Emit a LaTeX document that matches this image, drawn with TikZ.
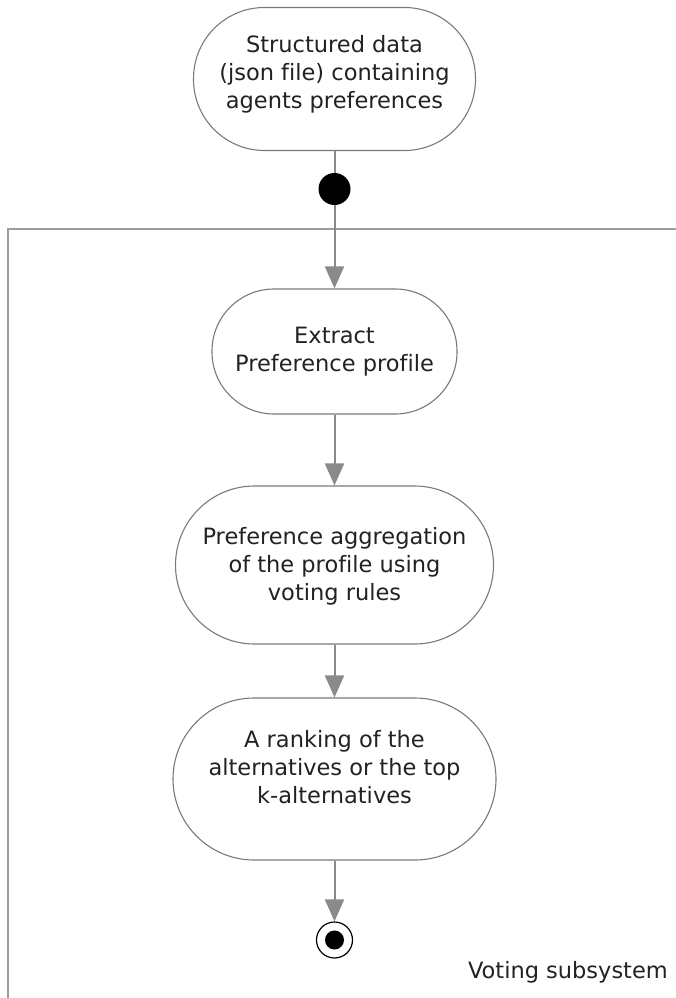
\documentclass[tikz,border=0pt]{standalone}
\usepackage{fontspec}
\setmainfont[Ligatures=NoCommon]{DejaVu Sans}
\usetikzlibrary{arrows.meta}
\definecolor{linegray}{HTML}{8A8A8A}
\definecolor{bordergray}{HTML}{7A7A7A}
\definecolor{framegray}{HTML}{9C9C9C}
\definecolor{txt}{HTML}{222222}
\tikzset{
  activity/.style={draw=bordergray, line width=1.1pt, fill=white, rectangle, rounded corners=#1, inner sep=0pt},
  lbl/.style={text=txt, align=center, font=\fontsize{22.5}{28}\selectfont, inner sep=0pt},
  flow/.style={draw=linegray, line width=2pt, -{Triangle[width=19pt,length=22pt]}},
  plainflow/.style={draw=linegray, line width=2pt},
}
\begin{document}
\begin{tikzpicture}[x=1pt,y=-1pt]
\useasboundingbox (0,0) rectangle (676,998);
% frame
\draw[framegray, line width=2pt] (8,998) -- (8,229) -- (676,229);
% activities
\node[activity=71pt, minimum width=282pt, minimum height=143pt] (n1) at (334.5,79) {};
\node[lbl] (t1) at (334.5,74) {Structured data\\(json file) containing\\agents preferences};
\node[circle, fill=black, minimum size=32pt, inner sep=0pt] (start) at (334.5,189) {};
\node[activity=62pt, minimum width=245pt, minimum height=125pt] (n2) at (334.5,351.5) {};
\node[lbl] (t2) at (334.5,352) {Extract\\Preference profile};
\node[activity=79pt, minimum width=318pt, minimum height=158pt] (n3) at (334.5,565) {};
\node[lbl] (t3) at (334.5,566) {Preference aggregation\\of the profile using\\voting rules};
\node[activity=81pt, minimum width=323pt, minimum height=162pt] (n4) at (334.5,779) {};
\node[lbl] (t4) at (334.5,767) {A ranking of the\\alternatives or the top\\k-alternatives};
\node[circle, draw=black, line width=1.2pt, fill=white, minimum size=36pt, inner sep=0pt] (end) at (334.5,940) {};
\node[circle, fill=black, minimum size=19pt, inner sep=0pt] (endin) at (end.center) {};
\node[lbl, anchor=east] (sub) at (668,972) {Voting subsystem};
% connectors
\draw[plainflow] (n1.south) -- (start.north);
\draw[flow] (start.south) -- (n2.north);
\draw[flow] (n2.south) -- (n3.north);
\draw[flow] (n3.south) -- (n4.north);
\draw[flow] (n4.south) -- (end.north);
\end{tikzpicture}
\end{document}
